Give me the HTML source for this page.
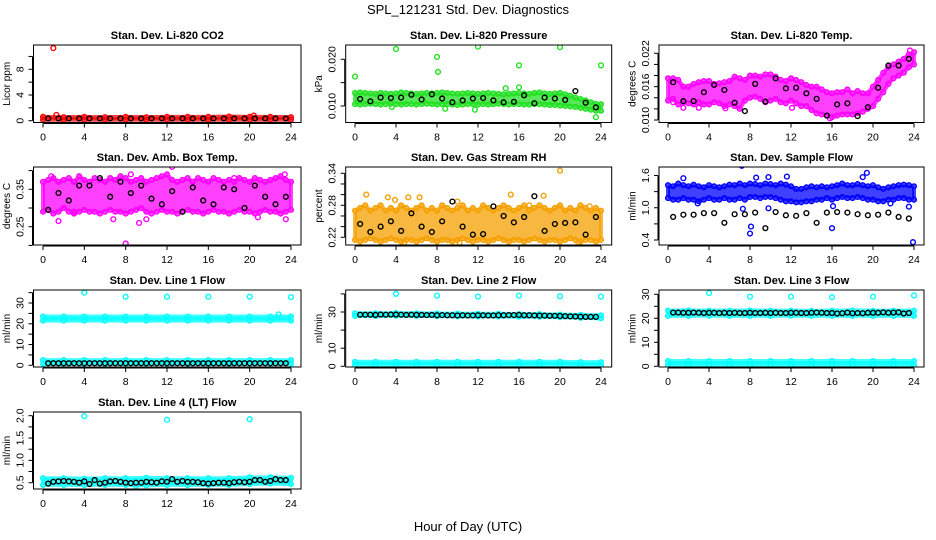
<!DOCTYPE html>
<html><head><meta charset="utf-8"><style>
body{margin:0;background:#fff}
svg{display:block;font-family:"Liberation Sans",Arial,sans-serif}
</style></head><body>
<svg id="chart" width="936" height="540" viewBox="0 0 936 540">
<rect width="936" height="540" fill="#fff"/>
<text x="468" y="14" text-anchor="middle" font-size="13">SPL_121231  Std. Dev. Diagnostics</text>
<text x="468" y="531" text-anchor="middle" font-size="13">Hour of Day (UTC)</text>
</svg>
<script>
// ---- data ----
const hourTicks = [0,4,8,12,16,20,24];
const blackHours = [0.5,1.5,2.5,3.5,4.5,5.5,6.5,7.5,8.5,9.5,10.5,11.5,12.5,13.5,14.5,15.5,16.5,17.5,18.5,19.5,20.5,21.5,22.5,23.5];
const blackHalfHours = [0.5,1,1.5,2,2.5,3,3.5,4,4.5,5,5.5,6,6.5,7,7.5,8,8.5,9,9.5,10,10.5,11,11.5,12,12.5,13,13.5,14,14.5,15,15.5,16,16.5,17,17.5,18,18.5,19,19.5,20,20.5,21,21.5,22,22.5,23,23.5];

const co2Upper = [0.6,0.55,0.6,0.55,0.6,0.55,0.6,0.6,0.6,0.65,0.6,0.6,0.55];
const co2Lower = [0.15,0.15,0.15,0.15,0.15,0.15,0.15,0.15,0.15,0.15,0.15,0.15,0.15];
const co2Black = [0.35,0.35,0.35,0.35,0.35,0.35,0.35,0.35,0.35,0.35,0.35,0.35,0.35,0.35,0.35,0.35,0.35,0.35,0.35,0.35,0.35,0.35,0.35,0.35];
const co2Outliers = [[1,11.3],[1.3,0.9],[20.4,0.8]];

const presUpper = [0.0128,0.0129,0.0128,0.0127,0.0126,0.0128,0.0127,0.0126,0.0127,0.0129,0.0128,0.0127,0.0126,0.0127,0.0128,0.0127,0.0128,0.0129,0.0128,0.0127,0.0126,0.0127,0.0128,0.0127,0.0126,0.0127,0.0128,0.0127,0.0126,0.0125,0.0126,0.0127,0.0128,0.0127,0.0126,0.0128,0.0129,0.0127,0.0126,0.0127,0.0128,0.0125,0.0122,0.0118,0.0115,0.0112,0.0108,0.0105,0.0104];
const presLower = [0.0104,0.0103,0.0104,0.0105,0.0104,0.0103,0.0104,0.0105,0.0104,0.0103,0.0104,0.0104,0.0103,0.0104,0.0105,0.0104,0.0103,0.0104,0.0104,0.0103,0.0102,0.0103,0.0104,0.0104,0.0103,0.0104,0.0103,0.0104,0.0105,0.0104,0.0103,0.0104,0.0104,0.0103,0.0103,0.0104,0.0104,0.0103,0.0102,0.0102,0.0101,0.0100,0.0099,0.0098,0.0096,0.0094,0.0092,0.0090,0.0090];
const presBlack = [0.0115,0.011,0.0118,0.0117,0.0118,0.0124,0.0114,0.0125,0.0116,0.0108,0.0112,0.0116,0.0117,0.0112,0.0108,0.0109,0.0123,0.0106,0.0118,0.0116,0.0113,0.0132,0.0107,0.0097];
const presOutliers = [[0,0.0163],[4,0.0222],[8,0.0205],[8.1,0.0173],[12,0.0227],[16,0.0187],[20,0.0226],[24,0.0187],[14.7,0.0138],[16,0.014],[23.5,0.0076],[3.6,0.0098],[8.8,0.0094],[11.7,0.0092]];

const tempUpper = [0.0175,0.0175,0.0172,0.016,0.016,0.0165,0.0168,0.017,0.017,0.0165,0.0166,0.0168,0.017,0.0178,0.0175,0.0172,0.018,0.018,0.0178,0.0182,0.0182,0.0178,0.0172,0.017,0.0175,0.0172,0.0168,0.0163,0.016,0.016,0.0155,0.015,0.0148,0.015,0.015,0.0155,0.0148,0.0152,0.0148,0.0148,0.016,0.0172,0.0185,0.0195,0.02,0.0205,0.021,0.0218,0.0222];
const tempLower = [0.0135,0.0138,0.0128,0.0132,0.013,0.0128,0.0132,0.0128,0.0128,0.0132,0.013,0.0125,0.0128,0.0125,0.012,0.0135,0.014,0.0142,0.0138,0.0132,0.0135,0.0138,0.0132,0.013,0.0135,0.013,0.0125,0.0125,0.0118,0.0112,0.011,0.0108,0.0105,0.0108,0.011,0.011,0.011,0.0112,0.0115,0.012,0.0125,0.0138,0.015,0.0165,0.0175,0.018,0.0185,0.0195,0.02];
const tempBlack = [0.0168,0.0134,0.0134,0.015,0.0163,0.0154,0.0131,0.0116,0.0165,0.0133,0.0175,0.0157,0.0158,0.0148,0.0138,0.0108,0.0128,0.013,0.0107,0.0123,0.0158,0.0198,0.0198,0.021];
const tempOutliers = [[15.8,0.0103],[0.5,0.0132],[1.5,0.0122],[23.6,0.0225],[3,0.0122],[5.6,0.0121],[12.1,0.0122]];

const boxUpper = [0.37,0.375,0.38,0.37,0.375,0.38,0.37,0.385,0.375,0.37,0.38,0.375,0.37,0.38,0.375,0.385,0.38,0.37,0.375,0.38,0.37,0.375,0.38,0.385,0.39,0.375,0.37,0.375,0.38,0.37,0.38,0.375,0.37,0.38,0.375,0.37,0.375,0.37,0.38,0.375,0.37,0.38,0.375,0.37,0.375,0.38,0.385,0.375,0.37];
const boxLower = [0.29,0.295,0.285,0.29,0.3,0.29,0.285,0.29,0.295,0.29,0.29,0.285,0.29,0.295,0.29,0.29,0.285,0.29,0.295,0.3,0.29,0.285,0.29,0.295,0.29,0.29,0.285,0.29,0.295,0.29,0.29,0.285,0.29,0.295,0.29,0.29,0.285,0.29,0.295,0.29,0.29,0.285,0.29,0.295,0.29,0.29,0.285,0.29,0.295];
const boxBlack = [0.295,0.34,0.32,0.36,0.36,0.38,0.33,0.37,0.34,0.36,0.325,0.31,0.345,0.29,0.355,0.32,0.31,0.355,0.35,0.3,0.36,0.33,0.31,0.33];
const boxOutliers = [[0.8,0.385],[8,0.205],[1.5,0.265],[6.8,0.27],[9.3,0.26],[12.5,0.41],[23.4,0.39],[23.5,0.27],[20.8,0.275],[10,0.27],[3,0.29],[18.5,0.38],[8.5,0.39]];

const rhUpper = [0.27,0.275,0.28,0.27,0.275,0.28,0.27,0.275,0.27,0.28,0.275,0.27,0.275,0.28,0.27,0.275,0.27,0.28,0.275,0.27,0.275,0.28,0.27,0.275,0.27,0.28,0.275,0.27,0.275,0.28,0.275,0.27,0.275,0.28,0.27,0.275,0.28,0.275,0.27,0.275,0.28,0.27,0.275,0.27,0.28,0.275,0.27,0.275,0.27];
const rhLower = [0.215,0.212,0.215,0.218,0.215,0.212,0.215,0.218,0.215,0.212,0.215,0.215,0.212,0.215,0.218,0.215,0.212,0.215,0.215,0.212,0.215,0.218,0.215,0.212,0.215,0.215,0.212,0.215,0.218,0.215,0.212,0.215,0.215,0.212,0.215,0.218,0.215,0.212,0.215,0.215,0.212,0.215,0.218,0.215,0.212,0.215,0.215,0.212,0.215];
const rhBlack = [0.245,0.23,0.24,0.25,0.232,0.265,0.24,0.23,0.25,0.287,0.24,0.225,0.226,0.278,0.26,0.248,0.258,0.297,0.232,0.245,0.247,0.248,0.225,0.258];
const rhOutliers = [[1.1,0.3],[3.2,0.295],[5.2,0.295],[6.3,0.295],[15.2,0.3],[18.4,0.298],[20,0.345],[17,0.28],[3.9,0.29],[10,0.287],[22.9,0.278],[4.8,0.21],[10.2,0.21],[21.8,0.21]];

const flowUpper = [1.42,1.4,1.45,1.42,1.4,1.43,1.4,1.38,1.42,1.4,1.38,1.4,1.43,1.42,1.45,1.42,1.45,1.44,1.42,1.45,1.44,1.42,1.45,1.43,1.4,1.35,1.35,1.38,1.4,1.38,1.4,1.38,1.4,1.42,1.45,1.42,1.42,1.44,1.42,1.4,1.42,1.38,1.35,1.38,1.4,1.42,1.43,1.42,1.4];
const flowLower = [1.18,1.15,1.15,1.18,1.15,1.15,1.12,1.15,1.18,1.15,1.15,1.18,1.15,1.15,1.18,1.15,1.2,1.2,1.18,1.2,1.2,1.18,1.15,1.12,1.12,1.1,1.1,1.12,1.12,1.15,1.15,1.18,1.15,1.18,1.2,1.18,1.18,1.2,1.18,1.15,1.15,1.12,1.12,1.15,1.15,1.18,1.18,1.15,1.15];
const flowBlack = [0.83,0.87,0.87,0.9,0.9,0.72,0.88,0.88,0.91,0.62,0.92,0.86,0.85,0.9,0.72,0.91,0.92,0.91,0.88,0.86,0.87,0.91,0.83,0.8];
const flowOutliers = [[1.5,1.55],[7.2,1.78],[8.6,1.56],[9.8,1.57],[11.6,1.58],[19.4,1.65],[19,1.57],[8,0.52],[8.1,0.65],[16,0.62],[23.9,0.36],[2.9,1.08],[9.8,0.99],[7.3,0.98],[16.1,1.03],[23.5,1.02],[21.7,1.08]];

const l1UpperA = [23.5,23.5,23.5,23.5,23.5,23.5,23.5,23.5,23.5,23.5,23.5,23.5,23.5];
const l1LowerA = [21.5,21.5,21.5,21.5,21.5,21.5,21.5,21.5,21.5,21.5,21.5,21.5,21.5];
const l1UpperB = [2.5,2.5,2.5,2.5,2.5,2.5,2.5,2.5,2.5,2.5,2.5,2.5,2.5];
const l1LowerB = [0.6,0.6,0.6,0.6,0.6,0.6,0.6,0.6,0.6,0.6,0.6,0.6,0.6];
const l1Black = [1,1,1,1,1,1,1,1,1,1,1,1,1,1,1,1,1,1,1,1,1,1,1,1,1,1,1,1,1,1,1,1,1,1,1,1,1,1,1,1,1,1,1,1,1,1,1];
const l1Outliers = [[4,35],[8,33],[12,33],[16,33],[20,33],[24,32.8],[22.8,24.5]];

const l2UpperA = [29.3,29.3,29.4,29.3,29.2,29.1,29,29,28.9,28.8,28.6,28.4,28.2];
const l2LowerA = [27.8,27.8,27.9,27.8,27.7,27.6,27.5,27.5,27.4,27.3,27.1,26.8,26.5];
const l2UpperB = [2.5,2.5,2.5,2.5,2.5,2.5,2.5,2.5,2.5,2.5,2.5,2.3,2.3];
const l2LowerB = [0.8,0.8,0.8,0.8,0.8,0.8,0.8,0.8,0.8,0.8,0.8,0.6,0.6];
const l2Black = [28.5,28.5,28.5,28.4,28.6,28.5,28.6,28.6,28.5,28.4,28.5,28.4,28.4,28.3,28.4,28.2,28.3,28.2,28.2,28.1,28.2,28.1,28.1,28.2,28.2,28.1,28.1,28.2,28.2,28.3,28.3,28.4,28.2,28.2,28.1,28,28,27.9,27.9,27.8,27.7,27.6,27.5,27.4,27.3,27.3,27.3];
const l2Outliers = [[4,40],[8,39],[12,38.5],[16,39],[20,38.7],[24,38.5]];

const l3UpperA = [23.2,23.3,23.2,23.2,23.3,23.2,23.2,23.1,23.2,23.3,23.2,23.2,23.2];
const l3LowerA = [21,21,21.1,21,21,21,21.1,21,21,21,21,21,21];
const l3UpperB = [2.2,2.2,2.2,2.2,2.2,2.2,2.2,2.2,2.2,2.2,2.2,2.2,2.2];
const l3LowerB = [0.5,0.5,0.5,0.5,0.5,0.5,0.5,0.5,0.5,0.5,0.5,0.5,0.5];
const l3Black = [22.4,22.4,22.3,22.3,22.4,22.3,22.2,22.3,22.3,22.2,22.3,22.2,22.3,22.2,22.2,22.3,22.2,22.2,22.3,22.2,22.3,22.2,22.2,22.3,22.3,22.2,22.2,22.3,22.4,22.3,22.2,22.2,22,22.1,22.4,22.1,22.2,22.1,22.3,22.3,22.3,22.5,22.3,22.4,22.5,22,22.2];
const l3Outliers = [[4,30.5],[8,29],[12,29],[16,28.8],[20,29],[24,29.5]];

const l4UpperA = [0.6,0.6,0.59,0.6,0.6,0.61,0.6,0.6,0.6,0.6,0.62,0.62,0.61];
const l4LowerA = [0.45,0.45,0.45,0.45,0.45,0.44,0.45,0.45,0.45,0.45,0.47,0.48,0.47];
const l4Black = [0.48,0.52,0.53,0.54,0.53,0.52,0.5,0.53,0.47,0.56,0.48,0.5,0.53,0.54,0.52,0.5,0.49,0.5,0.5,0.52,0.51,0.5,0.53,0.52,0.58,0.52,0.54,0.52,0.52,0.51,0.49,0.48,0.49,0.5,0.5,0.49,0.51,0.52,0.51,0.52,0.56,0.56,0.52,0.54,0.58,0.56,0.56];
const l4Outliers = [[4,1.99],[12,1.91],[20,1.92],[9,0.43]];

// ---- layout (axis geometry) ----
const NS = "http://www.w3.org/2000/svg";
const svg = document.getElementById('chart');
const cols = [{l:33.5,r:301,x0:43,x24:291},{l:345.7,r:611.7,x0:355,x24:601},{l:659,r:924,x0:668,x24:914}];
const rowsTop = [45,167,290,412];
const rowsBot = [122.5,245,367,489];

function mk(tag, attrs, parent){
  const e = document.createElementNS(NS, tag);
  for (const k in attrs) e.setAttribute(k, attrs[k]);
  (parent||svg).appendChild(e);
  return e;
}

const panels = [
 {name:'co2',title:'Stan. Dev. Li-820 CO2',ylab:'Licor ppm',c:0,r:0,color:'#ff0000',v1:0,p1:120.7,v2:8,p2:69.3,ticks:[0,2,4,6,8,10],labels:[0,4,8],fmt:0,step:2,bands:[[co2Upper,co2Lower]],black:co2Black,bx:blackHours,out:co2Outliers},
 {name:'pressure',title:'Stan. Dev. Li-820 Pressure',ylab:'kPa',c:1,r:0,color:'#22e022',v1:0.010,p1:106,v2:0.020,p2:59.3,ticks:[0.010,0.015,0.020],labels:[0.010,0.020],fmt:3,step:0.5,bands:[[presUpper,presLower]],black:presBlack,bx:blackHours,out:presOutliers},
 {name:'li820-temp',title:'Stan. Dev. Li-820 Temp.',ylab:'degrees C',c:2,r:0,color:'#ff00ff',v1:0.010,p1:120,v2:0.022,p2:53.3,ticks:[0.010,0.012,0.014,0.016,0.018,0.020,0.022],labels:[0.010,0.016,0.022],fmt:3,step:0.5,bands:[[tempUpper,tempLower]],black:tempBlack,bx:blackHours,out:tempOutliers},
 {name:'amb-box-temp',title:'Stan. Dev. Amb. Box Temp.',ylab:'degrees C',c:0,r:1,color:'#ff00ff',v1:0.25,p1:226.7,v2:0.35,p2:189.3,ticks:[0.20,0.25,0.30,0.35,0.40],labels:[0.25,0.35],fmt:2,step:0.5,bands:[[boxUpper,boxLower]],black:boxBlack,bx:blackHours,out:boxOutliers},
 {name:'gas-stream-rh',title:'Stan. Dev. Gas Stream RH',ylab:'percent',c:1,r:1,color:'#f5a000',v1:0.22,p1:237.3,v2:0.34,p2:173.3,ticks:[0.22,0.24,0.26,0.28,0.30,0.32,0.34],labels:[0.22,0.28,0.34],fmt:2,step:0.5,bands:[[rhUpper,rhLower]],black:rhBlack,bx:blackHours,out:rhOutliers},
 {name:'sample-flow',title:'Stan. Dev. Sample Flow',ylab:'ml/min',c:2,r:1,color:'#0000ff',v1:0.4,p1:240,v2:1.6,p2:175.5,ticks:[0.4,0.7,1.0,1.3,1.6],labels:[0.4,1.0,1.6],fmt:1,step:0.5,bands:[[flowUpper,flowLower]],black:flowBlack,bx:blackHours,out:flowOutliers},
 {name:'line1-flow',title:'Stan. Dev. Line 1 Flow',ylab:'ml/min',c:0,r:2,color:'#00ffff',v1:0,p1:365.3,v2:30,p2:303,ticks:[0,5,10,15,20,25,30,35],labels:[0,10,20,30],fmt:0,step:2,bands:[[l1UpperA,l1LowerA],[l1UpperB,l1LowerB]],black:l1Black,bx:blackHalfHours,out:l1Outliers},
 {name:'line2-flow',title:'Stan. Dev. Line 2 Flow',ylab:'ml/min',c:1,r:2,color:'#00ffff',v1:0,p1:366.3,v2:30,p2:312,ticks:[0,10,20,30,40],labels:[0,10,30],fmt:0,step:2,bands:[[l2UpperA,l2LowerA],[l2UpperB,l2LowerB]],black:l2Black,bx:blackHalfHours,out:l2Outliers},
 {name:'line3-flow',title:'Stan. Dev. Line 3 Flow',ylab:'ml/min',c:2,r:2,color:'#00ffff',v1:0,p1:366.3,v2:30,p2:294.3,ticks:[0,5,10,15,20,25,30],labels:[0,10,20,30],fmt:0,step:2,bands:[[l3UpperA,l3LowerA],[l3UpperB,l3LowerB]],black:l3Black,bx:blackHalfHours,out:l3Outliers},
 {name:'line4-flow',title:'Stan. Dev. Line 4 (LT) Flow',ylab:'ml/min',c:0,r:3,color:'#00ffff',v1:0.5,p1:482.7,v2:2.0,p2:415.7,ticks:[0.5,0.75,1.0,1.25,1.5,1.75,2.0],labels:[0.5,1.0,1.5,2.0],fmt:1,step:2,bands:[[l4UpperA,l4LowerA]],black:l4Black,bx:blackHalfHours,out:l4Outliers}
];

panels.forEach(p => {
  const col = cols[p.c], top = rowsTop[p.r], bot = rowsBot[p.r];
  const xs = h => col.x0 + (col.x24 - col.x0) * h / 24;
  const ys = v => p.p1 + (p.p2 - p.p1) * (v - p.v1) / (p.v2 - p.v1);
  const g = mk('g', {});
  
  
  const cp = mk('clipPath', {id:'clip-' + p.name}, g);
  mk('rect', {x:col.l, y:top, width:col.r-col.l, height:bot-top}, cp);
  const data = mk('g', {'clip-path':'url(#clip-' + p.name + ')'}, g);

  p.bands.forEach((b, bi) => {
    const up = b[0], lo = b[1];
    let pts = [];
    up.forEach((v,i) => pts.push(xs(i*p.step) + ',' + ys(v)));
    for (let i = lo.length-1; i >= 0; i--) pts.push(xs(i*p.step) + ',' + ys(lo[i]));
    const poly = mk('polygon', {points:pts.join(' '), fill:p.color, 'fill-opacity':0.75, stroke:p.color, 'stroke-opacity':0.75, 'stroke-width':4, 'stroke-linejoin':'round'}, data);
    
    
    [up, lo].forEach(arr => arr.forEach((v,i) => {
      const c = mk('circle', {cx:xs(i*p.step), cy:ys(v), r:2.4, fill:'none', stroke:p.color, 'stroke-width':1.3}, data);
      
      
    }));
  });
  p.out.forEach(o => {
    const c = mk('circle', {cx:xs(o[0]), cy:ys(o[1]), r:2.4, fill:'none', stroke:p.color, 'stroke-width':1.4}, data);
    
    
  });
  p.black.forEach((v,i) => {
    const c = mk('circle', {cx:xs(p.bx[i]), cy:ys(v), r:2.4, fill:'none', stroke:'#000', 'stroke-width':1.4}, data);
    
    
  });

  const box = mk('rect', {x:col.l, y:top, width:col.r-col.l, height:bot-top, fill:'none', stroke:'#000', 'stroke-width':1}, g);
  
  
  const t = mk('text', {x:(col.l+col.r)/2, y:top-6, 'text-anchor':'middle', 'font-size':11, 'font-weight':'bold'}, g);
  t.textContent = p.title;
  
  
  const xa = mk('g', {}, g);
  
  
  mk('line', {x1:xs(0), x2:xs(24), y1:bot+1, y2:bot+1, stroke:'#000'}, xa);
  hourTicks.forEach(h => {
    mk('line', {x1:xs(h), x2:xs(h), y1:bot+1, y2:bot+5, stroke:'#000'}, xa);
    const tl = mk('text', {x:xs(h), y:bot+18, 'text-anchor':'middle', 'font-size':10.5}, xa);
    tl.textContent = h;
    
    
  });
  const ya = mk('g', {}, g);
  
  
  const tv = p.ticks;
  mk('line', {x1:col.l-1, x2:col.l-1, y1:ys(tv[0]), y2:ys(tv[tv.length-1]), stroke:'#000'}, ya);
  tv.forEach(v => mk('line', {x1:col.l-5, x2:col.l-1, y1:ys(v), y2:ys(v), stroke:'#000'}, ya));
  p.labels.forEach(v => {
    const lx = col.l - 13, ly = ys(v);
    const tl = mk('text', {x:lx, y:ly, 'text-anchor':'middle', 'dominant-baseline':'central', 'font-size':10.5, transform:'rotate(-90 ' + lx + ' ' + ly + ')'}, ya);
    tl.textContent = v.toFixed(p.fmt);
    
    
  });
  const yx = col.l - 26, yy = (top + bot) / 2;
  const yt = mk('text', {x:yx, y:yy, 'text-anchor':'middle', 'dominant-baseline':'central', 'font-size':10, transform:'rotate(-90 ' + yx + ' ' + yy + ')'}, g);
  yt.textContent = p.ylab;
  
  
});
</script>
</body></html>
